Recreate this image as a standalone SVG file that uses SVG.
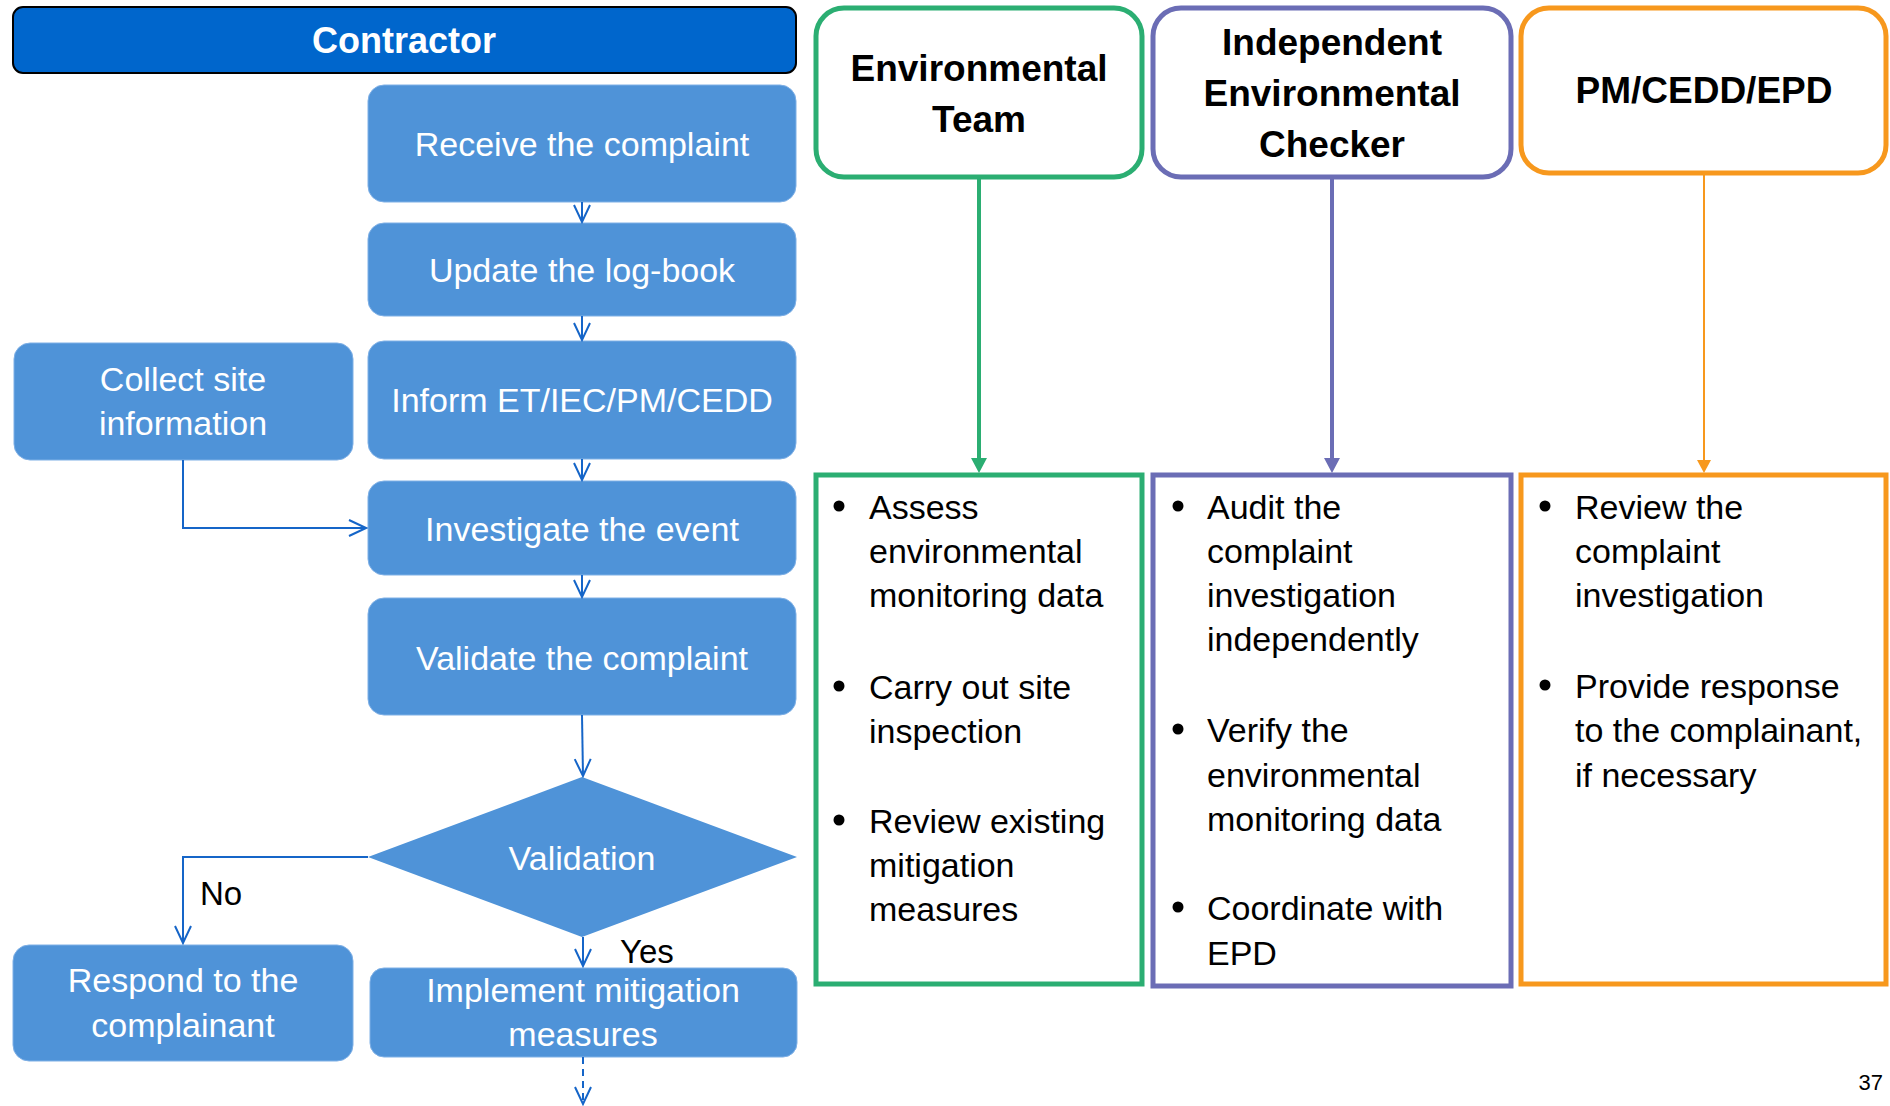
<svg xmlns="http://www.w3.org/2000/svg" width="1890" height="1106" viewBox="0 0 1890 1106">
  <style>
    .step { fill: #4F93D8; stroke: #7FB0E6; stroke-width: 1; }
    .stxt { font-family: "Liberation Sans", Arial, sans-serif; font-size: 34px; fill: #FFFFFF; text-anchor: middle; }
    .hdr { font-family: "Liberation Sans", Arial, sans-serif; font-size: 37px; font-weight: bold; fill: #000000; text-anchor: middle; }
    .lbl { font-family: "Liberation Sans", Arial, sans-serif; font-size: 33px; fill: #000000; }
    .btxt { font-family: "Liberation Sans", Arial, sans-serif; font-size: 34px; fill: #000000; }
    .flow { fill: none; stroke: #1565C8; stroke-width: 2; }
  </style>
  <defs>
    <!-- open V arrowhead, pointing along the line direction -->
    <marker id="vee" viewBox="0 0 20 20" refX="18" refY="10" markerWidth="20" markerHeight="20" markerUnits="userSpaceOnUse" orient="auto">
      <path d="M1,2 L18,10 L1,18" fill="none" stroke="#1565C8" stroke-width="2"/>
    </marker>
  </defs>
  <rect width="1890" height="1106" fill="#FFFFFF"/>

  <!-- Contractor lane heading -->
  <g id="contractor">
    <rect x="13" y="7" width="783" height="66" rx="10" fill="#0066CC" stroke="#000000" stroke-width="2"/>
    <text x="404" y="53" text-anchor="middle" font-family="Liberation Sans, Arial, sans-serif" font-size="36" font-weight="bold" fill="#FFFFFF">Contractor</text>
  </g>

  <!-- Contractor process steps -->
  <g id="receive">
    <rect class="step" x="368" y="85" width="428" height="117" rx="16"/>
    <text class="stxt" x="582" y="156">Receive the complaint</text>
  </g>
  <g id="update">
    <rect class="step" x="368" y="223" width="428" height="93" rx="16"/>
    <text class="stxt" x="582" y="282">Update the log-book</text>
  </g>
  <g id="inform">
    <rect class="step" x="368" y="341" width="428" height="118" rx="16"/>
    <text class="stxt" x="582" y="412">Inform ET/IEC/PM/CEDD</text>
  </g>
  <g id="collect">
    <rect class="step" x="14" y="343" width="339" height="117" rx="16"/>
    <text class="stxt" x="183" y="391">Collect site</text>
    <text class="stxt" x="183" y="435">information</text>
  </g>
  <g id="investigate">
    <rect class="step" x="368" y="481" width="428" height="94" rx="16"/>
    <text class="stxt" x="582" y="541">Investigate the event</text>
  </g>
  <g id="validate">
    <rect class="step" x="368" y="598" width="428" height="117" rx="16"/>
    <text class="stxt" x="582" y="670">Validate the complaint</text>
  </g>
  <g id="validation">
    <polygon points="582,777 797,857 582,937 368,857" fill="#4F93D8"/>
    <text class="stxt" x="582" y="870">Validation</text>
  </g>
  <g id="respond">
    <rect class="step" x="13" y="945" width="340" height="116" rx="16"/>
    <text class="stxt" x="183" y="992">Respond to the</text>
    <text class="stxt" x="183" y="1037">complainant</text>
  </g>
  <g id="implement">
    <rect class="step" x="370" y="968" width="427" height="89" rx="14"/>
    <text class="stxt" x="583" y="1002">Implement mitigation</text>
    <text class="stxt" x="583" y="1046">measures</text>
  </g>

  <!-- Party headings -->
  <g id="et-head">
    <rect x="816" y="8" width="326" height="169" rx="28" fill="#FFFFFF" stroke="#2BAE72" stroke-width="5"/>
    <text class="hdr" x="979" y="81">Environmental</text>
    <text class="hdr" x="979" y="132">Team</text>
  </g>
  <g id="iec-head">
    <rect x="1153" y="8" width="358" height="169" rx="28" fill="#FFFFFF" stroke="#6B6DB5" stroke-width="5"/>
    <text class="hdr" x="1332" y="55">Independent</text>
    <text class="hdr" x="1332" y="106">Environmental</text>
    <text class="hdr" x="1332" y="157">Checker</text>
  </g>
  <g id="pm-head">
    <rect x="1521" y="8" width="365" height="165" rx="28" fill="#FFFFFF" stroke="#F7981D" stroke-width="5"/>
    <text class="hdr" x="1704" y="103">PM/CEDD/EPD</text>
  </g>

  <!-- Party duties -->
  <g id="et-tasks">
    <rect x="816" y="475" width="326" height="509" fill="#FFFFFF" stroke="#2BAE72" stroke-width="5"/>
    <circle cx="839" cy="506" r="5.5"/>
    <text class="btxt" x="869" y="519">Assess</text>
    <text class="btxt" x="869" y="563">environmental</text>
    <text class="btxt" x="869" y="607">monitoring data</text>
    <circle cx="839" cy="686" r="5.5"/>
    <text class="btxt" x="869" y="699">Carry out site</text>
    <text class="btxt" x="869" y="743">inspection</text>
    <circle cx="839" cy="820" r="5.5"/>
    <text class="btxt" x="869" y="833">Review existing</text>
    <text class="btxt" x="869" y="877">mitigation</text>
    <text class="btxt" x="869" y="921">measures</text>
  </g>
  <g id="iec-tasks">
    <rect x="1153" y="475" width="358" height="511" fill="#FFFFFF" stroke="#6B6DB5" stroke-width="5"/>
    <circle cx="1178" cy="506" r="5.5"/>
    <text class="btxt" x="1207" y="519">Audit the</text>
    <text class="btxt" x="1207" y="563">complaint</text>
    <text class="btxt" x="1207" y="607">investigation</text>
    <text class="btxt" x="1207" y="651">independently</text>
    <circle cx="1178" cy="729" r="5.5"/>
    <text class="btxt" x="1207" y="742">Verify the</text>
    <text class="btxt" x="1207" y="787">environmental</text>
    <text class="btxt" x="1207" y="831">monitoring data</text>
    <circle cx="1178" cy="907" r="5.5"/>
    <text class="btxt" x="1207" y="920">Coordinate with</text>
    <text class="btxt" x="1207" y="965">EPD</text>
  </g>
  <g id="pm-tasks">
    <rect x="1521" y="475" width="365" height="509" fill="#FFFFFF" stroke="#F7981D" stroke-width="5"/>
    <circle cx="1545" cy="506" r="5.5"/>
    <text class="btxt" x="1575" y="519">Review the</text>
    <text class="btxt" x="1575" y="563">complaint</text>
    <text class="btxt" x="1575" y="607">investigation</text>
    <circle cx="1545" cy="685" r="5.5"/>
    <text class="btxt" x="1575" y="698">Provide response</text>
    <text class="btxt" x="1575" y="742">to the complainant,</text>
    <text class="btxt" x="1575" y="787">if necessary</text>
  </g>

  <!-- Connectors -->
  <g id="connectors">
    <line class="flow" x1="582" y1="202" x2="582" y2="222" marker-end="url(#vee)"/>
    <line class="flow" x1="582" y1="316" x2="582" y2="340" marker-end="url(#vee)"/>
    <line class="flow" x1="582" y1="459" x2="582" y2="480" marker-end="url(#vee)"/>
    <line class="flow" x1="582" y1="575" x2="582" y2="597" marker-end="url(#vee)"/>
    <line class="flow" x1="582" y1="715" x2="583" y2="776" marker-end="url(#vee)"/>
    <polyline class="flow" points="183,460 183,528 366,528" marker-end="url(#vee)"/>
    <polyline class="flow" points="368,857 183,857 183,943" marker-end="url(#vee)"/>
    <line class="flow" x1="583" y1="937" x2="583" y2="966" marker-end="url(#vee)"/>
    <line class="flow" x1="583" y1="1057" x2="583" y2="1104" stroke-dasharray="7,5" marker-end="url(#vee)"/>
    <text class="lbl" x="200" y="905">No</text>
    <text class="lbl" x="620" y="963">Yes</text>

    <line x1="979" y1="179" x2="979" y2="460" stroke="#2BAE72" stroke-width="4"/>
    <polygon points="971,458 987,458 979,473" fill="#2BAE72"/>
    <line x1="1332" y1="179" x2="1332" y2="460" stroke="#6B6DB5" stroke-width="4"/>
    <polygon points="1324,458 1340,458 1332,473" fill="#6B6DB5"/>
    <line x1="1704" y1="175" x2="1704" y2="462" stroke="#F7981D" stroke-width="2"/>
    <polygon points="1697,460 1711,460 1704,473" fill="#F7981D"/>
  </g>

  <text x="1883" y="1090" text-anchor="end" font-family="Liberation Sans, Arial, sans-serif" font-size="22" fill="#000000">37</text>
</svg>
